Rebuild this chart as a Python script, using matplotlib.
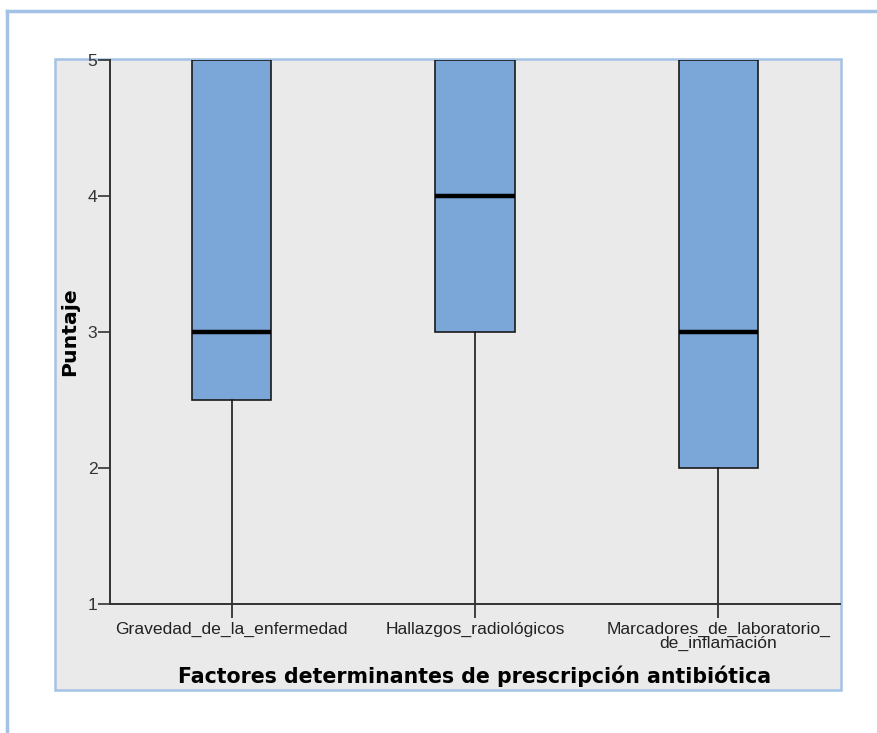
import matplotlib
matplotlib.use("Agg")
import matplotlib.pyplot as plt
from matplotlib.patches import Rectangle
from matplotlib.lines import Line2D

# Box summary per factor
categories = ["Gravedad_de_la_enfermedad", "Hallazgos_radiológicos",
              "Marcadores_de_laboratorio_\nde_inflamación"]
whisker_low = [1, 1, 1]
q1 = [2.5, 3, 2]
median = [3, 4, 3]
q3 = [5, 5, 5]
whisker_high = [5, 5, 5]
y_ticks = [1, 2, 3, 4, 5]

W, H = 877, 733
fig = plt.figure(figsize=(W / 100, H / 100), dpi=100)
fig.patch.set_facecolor("white")

frame_blue = "#A4C2E6"
# outer panel edges
fig.add_artist(Line2D([7 / W, 7 / W], [0, 1 - 11 / H], color=frame_blue, lw=2.5,
                      transform=fig.transFigure))
fig.add_artist(Line2D([7 / W, 1], [1 - 11 / H, 1 - 11 / H], color=frame_blue, lw=2.5,
                      transform=fig.transFigure))
# chart frame
fig.add_artist(Rectangle((55 / W, 1 - 690 / H), (841 - 55) / W, (690 - 59) / H,
                         facecolor="#EAEAEA", edgecolor=frame_blue, lw=1.8,
                         transform=fig.transFigure, zorder=0))

ax = fig.add_axes([110 / W, 1 - 604 / H, (840 - 110) / W, (604 - 60) / H])
ax.patch.set_visible(False)

stats = []
for i, name in enumerate(categories):
    stats.append(dict(label=name, whislo=whisker_low[i], q1=q1[i], med=median[i],
                      q3=q3[i], whishi=whisker_high[i], fliers=[]))

ax.bxp(stats, positions=range(len(categories)), widths=0.325, patch_artist=True,
       showcaps=False, showfliers=False,
       boxprops=dict(facecolor="#7BA6D8", edgecolor="#1a1a1a", lw=1.2),
       whiskerprops=dict(color="#1a1a1a", lw=1.2),
       medianprops=dict(color="black", lw=3.2, solid_capstyle="butt"))

ax.set_xlim(-0.5, 2.5)
ax.set_ylim(1, 5)
ax.set_yticks(y_ticks)
ax.set_yticklabels([str(v) for v in y_ticks])
ax.set_xticks(range(len(categories)))
ax.set_xticklabels(categories, fontsize=12.6, family="Liberation Sans",
                   color="#222222", linespacing=0.85)

for s in ["top", "right"]:
    ax.spines[s].set_visible(False)
for s in ["left", "bottom"]:
    ax.spines[s].set_color("#333333")
    ax.spines[s].set_linewidth(1.4)

ax.tick_params(axis="x", length=10, width=1.2, color="#222222", pad=3)
ax.tick_params(axis="y", length=8.5, width=1.2, color="#333333", pad=0.5,
               labelsize=12.6)
for t in ax.get_yticklabels():
    t.set_family("Liberation Sans")
    t.set_color("#333333")

ax.set_xlabel("Factores determinantes de prescripción antibiótica",
              fontsize=14.8, fontweight="bold", family="DejaVu Sans", labelpad=11)
ax.set_ylabel("Puntaje", fontsize=14.7, fontweight="bold", family="DejaVu Sans",
              labelpad=6)

fig.savefig("out.png", dpi=100)
